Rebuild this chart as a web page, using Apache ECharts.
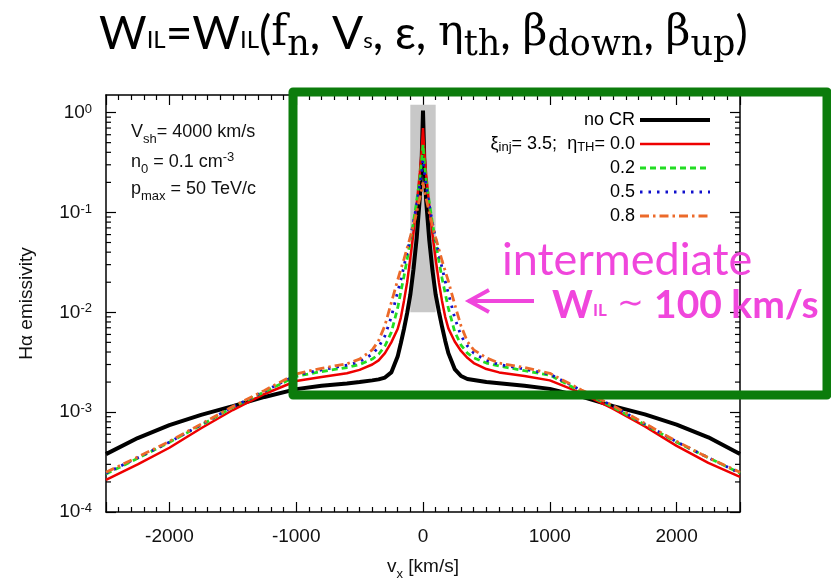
<!DOCTYPE html>
<html>
<head>
<meta charset="utf-8">
<script src="https://cdn.jsdelivr.net/npm/echarts@6/dist/echarts.min.js"></script>
<style>
  html, body { margin: 0; padding: 0; background: #fff; }
  #chart { width: 831px; height: 584px; }
</style>
</head>
<body>
<div id="chart"></div>
<script>
// line-of-sight velocity grid, km/s
var vx = [-2500, -2250, -2000, -1750, -1500, -1250, -1000, -800, -600, -500, -400, -350, -300, -250, -200, -175, -150, -125, -100, -75, -50, -25, -10,
  0, 10, 25, 50, 75, 100, 125, 150, 175, 200, 250, 300, 350, 400, 500, 600, 800, 1000, 1250, 1500, 1750, 2000, 2250, 2500];

// H-alpha emissivity
var noCR = [3.8e-4, 5.5e-4, 7.4e-4, 9.4e-4, 1.15e-3, 1.42e-3, 1.7e-3, 1.84e-3, 1.94e-3, 2.0e-3, 2.08e-3, 2.13e-3, 2.22e-3, 2.5e-3, 3.6e-3, 4.9e-3, 6.8e-3, 9.8e-3, 0.015, 0.027, 0.055, 0.14, 0.35,
  1.05, 0.34, 0.13, 0.052, 0.026, 0.015, 0.0102, 0.0072, 0.0052, 0.0039, 0.0027, 0.0023, 0.00215, 0.0021, 0.002, 0.00195, 0.00184, 0.00171, 0.00143, 0.00115, 0.00095, 0.00075, 0.00056, 0.00038];
var eta00 = [2.1e-4, 3.0e-4, 4.4e-4, 6.9e-4, 1.05e-3, 1.52e-3, 2.05e-3, 2.25e-3, 2.45e-3, 2.65e-3, 3.0e-3, 3.3e-3, 3.9e-3, 5.0e-3, 6.8e-3, 8.8e-3, 0.013, 0.02, 0.035, 0.063, 0.12, 0.25, 0.42,
  0.70, 0.41, 0.24, 0.115, 0.06, 0.034, 0.02, 0.013, 0.009, 0.0069, 0.0051, 0.0041, 0.0035, 0.0031, 0.0027, 0.0025, 0.0023, 0.00208, 0.00155, 0.00108, 0.00072, 0.00046, 0.00031, 0.000225];
var eta02 = [2.4e-4, 3.45e-4, 5.0e-4, 7.4e-4, 1.12e-3, 1.6e-3, 2.28e-3, 2.55e-3, 2.8e-3, 3.0e-3, 3.4e-3, 3.8e-3, 4.6e-3, 6.3e-3, 0.011, 0.016, 0.023, 0.034, 0.052, 0.08, 0.13, 0.22, 0.33,
  0.48, 0.32, 0.21, 0.125, 0.077, 0.05, 0.033, 0.022, 0.0155, 0.011, 0.0064, 0.0047, 0.0039, 0.0035, 0.0031, 0.0029, 0.0026, 0.00235, 0.0016, 0.00112, 0.00075, 0.0005, 0.00035, 0.000245];
var eta05 = [2.45e-4, 3.5e-4, 5.0e-4, 7.5e-4, 1.13e-3, 1.62e-3, 2.35e-3, 2.65e-3, 2.95e-3, 3.2e-3, 3.8e-3, 4.5e-3, 5.8e-3, 9.0e-3, 0.016, 0.021, 0.029, 0.04, 0.056, 0.08, 0.12, 0.19, 0.26,
  0.34, 0.255, 0.185, 0.118, 0.078, 0.054, 0.039, 0.028, 0.0205, 0.0155, 0.0088, 0.0058, 0.0046, 0.0039, 0.0033, 0.003, 0.0027, 0.0024, 0.00165, 0.00115, 0.00076, 0.000505, 0.00035, 0.000245];
var eta08 = [2.5e-4, 3.55e-4, 5.1e-4, 7.6e-4, 1.14e-3, 1.65e-3, 2.42e-3, 2.75e-3, 3.05e-3, 3.4e-3, 4.2e-3, 5.2e-3, 7.4e-3, 0.0125, 0.021, 0.027, 0.034, 0.044, 0.057, 0.075, 0.10, 0.14, 0.17,
  0.20, 0.17, 0.138, 0.099, 0.074, 0.056, 0.043, 0.033, 0.026, 0.0205, 0.012, 0.0073, 0.0051, 0.0042, 0.0035, 0.0031, 0.0028, 0.00245, 0.00167, 0.00116, 0.00077, 0.00051, 0.00035, 0.00025];

var seriesNames = ['no CR', '0.0', '0.2', '0.5', '0.8'];
var seriesColors = ['#000000', '#ee0000', '#22dd22', '#1010cc', '#ec6a2a'];
var seriesWidths = [4, 2.5, 2.8, 2.8, 2.8];
var seriesDashes = ['solid', 'solid', [6, 4], [2.5, 6], [9, 4, 2.5, 4]];
var yMinorTicks = [2e-4, 3e-4, 4e-4, 5e-4, 6e-4, 7e-4, 8e-4, 9e-4,
  2e-3, 3e-3, 4e-3, 5e-3, 6e-3, 7e-3, 8e-3, 9e-3,
  0.02, 0.03, 0.04, 0.05, 0.06, 0.07, 0.08, 0.09,
  0.2, 0.3, 0.4, 0.5, 0.6, 0.7, 0.8, 0.9];
// grey band around the line centre
var shadeX = [-100, 100];
var shadeY = [0.01, 1.2];

var X_MIN = -2500, X_MAX = 2500, Y_MIN = 1e-4, Y_MAX = 1.5;
var SANS = 'Liberation Sans';
var MAGENTA = '#f046dc';

function pairs(ys) {
  return vx.map(function (x, i) { return [x, ys[i]]; });
}

function lineSeries(i, ys) {
  return {
    name: seriesNames[i],
    type: 'line',
    data: pairs(ys),
    symbol: 'none',
    showSymbol: false,
    z: 2 + i,
    lineStyle: { color: seriesColors[i], width: seriesWidths[i], type: seriesDashes[i] },
    itemStyle: { color: seriesColors[i] },
    emphasis: { disabled: true },
    animation: false
  };
}

// rich token helper: shift > 0 moves the glyphs down, < 0 up
function tok(family, size, color, lh, shift, weight) {
  var st = { fontFamily: family, fontSize: size, color: color, lineHeight: lh, fontWeight: weight || 'normal' };
  if (shift > 0) st.padding = [2 * shift, 0, 0, 0];
  if (shift < 0) st.padding = [0, 0, -2 * shift, 0];
  return st;
}
function gtok(family, size, color, lh, shift, weight) {
  var st = tok(family, size, color, lh, shift, weight);
  st.fill = color;
  return st;
}

var xAxisBase = {
  type: 'value',
  min: X_MIN,
  max: X_MAX,
  axisLine: { show: true, onZero: false, lineStyle: { color: '#000', width: 1.5 } },
  axisTick: { show: true, inside: true, length: 10, lineStyle: { color: '#000', width: 1.2 } },
  minorTick: { show: true, splitNumber: 10, length: 5, lineStyle: { color: '#000', width: 1.2 } },
  splitLine: { show: false }
};
var yAxisBase = {
  type: 'log',
  logBase: 10,
  min: Y_MIN,
  max: Y_MAX,
  axisLine: { show: true, onZero: false, lineStyle: { color: '#000', width: 1.5 } },
  axisTick: { show: true, inside: true, length: 10, lineStyle: { color: '#000', width: 1.2 } },
  splitLine: { show: false }
};

var chart = echarts.init(document.getElementById('chart'));
var s1 = lineSeries(0, noCR);
s1.markArea = {
  silent: true,
  itemStyle: { color: '#c8c8c8' },
  data: [[{ coord: [shadeX[0], shadeY[0]] }, { coord: [shadeX[1], shadeY[1]] }]]
};

chart.setOption({
  animation: false,
  title: {
    text: '{m|W}{il|IL}{m|=W}{il|IL}{m|(}{f|f}{fs|n}{m|, V}{s|s}{m|, ε, }{f|η}{fs|th}{m|, }{f|β}{fs|down}{m|, }{f|β}{fs|up}{m|)}',
    left: 99,
    top: 4,
    padding: 0,
    textStyle: {
      fontWeight: 'normal',
      rich: {
        m: tok('Lato', 46, '#000', 60, 0),
        il: tok('Lato', 24, '#000', 60, 6),
        s: tok('Lato', 22, '#000', 60, 7),
        f: tok('DejaVu Serif', 43, '#000', 60, 0),
        fs: tok('DejaVu Serif', 35, '#000', 60, 12)
      }
    }
  },
  grid: { left: 106, right: 91, top: 95, bottom: 72, outerBoundsMode: 'none' },
  legend: {
    data: seriesNames.map(function (n, i) {
      return { name: n, lineStyle: { width: seriesWidths[i], type: seriesDashes[i], color: seriesColors[i] } };
    }),
    orient: 'vertical',
    align: 'right',
    right: 119,
    top: 110,
    padding: 0,
    itemWidth: 70,
    itemHeight: 20,
    itemGap: 4,
    selectedMode: false,
    itemStyle: { color: 'rgba(0,0,0,0)', borderColor: 'rgba(0,0,0,0)', borderWidth: 0 },
    formatter: function (name) {
      return name === '0.0' ? '{t|ξ}{s|inj}{t|= 3.5;  η}{s|TH}{t|= 0.0}' : name;
    },
    textStyle: {
      fontFamily: SANS, fontSize: 18, color: '#000', lineHeight: 20,
      rich: {
        t: { fontFamily: SANS, fontSize: 18, color: '#000', lineHeight: 20 },
        s: { fontFamily: SANS, fontSize: 13, color: '#000', lineHeight: 8, verticalAlign: 'bottom' }
      }
    }
  },
  xAxis: [
    Object.assign({}, xAxisBase, {
      position: 'bottom',
      axisLabel: {
        margin: 15, fontFamily: SANS, fontSize: 19, color: '#111', showMinLabel: false, showMaxLabel: false,
        formatter: function (v) { return String(v); }
      },
      name: '{t|v}{s|x}{t| [km/s]}',
      nameLocation: 'middle',
      nameGap: 45,
      nameTextStyle: {
        rich: {
          t: tok(SANS, 19, '#111', 20, 0),
          s: tok(SANS, 13, '#111', 20, 7)
        }
      }
    }),
    Object.assign({}, xAxisBase, { position: 'top', axisLabel: { show: false } })
  ],
  yAxis: [
    Object.assign({}, yAxisBase, {
      position: 'left',
      axisLabel: {
        margin: 14, showMaxLabel: false,
        formatter: function (v) { return '{b|10}{e|' + Math.round(Math.log10(v)) + '}'; },
        rich: {
          b: { fontFamily: SANS, fontSize: 19, color: '#111', lineHeight: 20 },
          e: { fontFamily: SANS, fontSize: 13, color: '#111', lineHeight: 6, verticalAlign: 'top' }
        }
      },
      name: 'Hα emissivity',
      nameLocation: 'middle',
      nameGap: 70,
      nameTextStyle: { fontFamily: SANS, fontSize: 19, color: '#111' }
    }),
    Object.assign({}, yAxisBase, { position: 'right', axisLabel: { show: false } })
  ],
  series: [
    {
      type: 'custom',
      name: 'minor ticks',
      silent: true,
      clip: false,
      z: 3,
      data: yMinorTicks.map(function (v) { return [X_MIN, v]; }),
      encode: { x: 0, y: 1 },
      renderItem: function (params, api) {
        var cs = params.coordSys;
        var y = api.coord([X_MIN, api.value(1)])[1];
        var st = { stroke: '#000', lineWidth: 1.2 };
        return {
          type: 'group',
          children: [
            { type: 'line', shape: { x1: cs.x, y1: y, x2: cs.x + 5, y2: y }, style: st },
            { type: 'line', shape: { x1: cs.x + cs.width - 5, y1: y, x2: cs.x + cs.width, y2: y }, style: st }
          ]
        };
      }
    },
    s1,
    lineSeries(1, eta00),
    lineSeries(2, eta02),
    lineSeries(3, eta05),
    lineSeries(4, eta08)
  ],
  graphic: [
    {
      type: 'text', x: 131, y: 122, z: 50,
      style: {
        text: '{t|V}{s|sh}{t|= 4000 km/s}',
        rich: { t: gtok(SANS, 18, '#111', 20, 0), s: gtok(SANS, 13, '#111', 20, 7) }
      }
    },
    {
      type: 'text', x: 131, y: 152, z: 50,
      style: {
        text: '{t|n}{s|0}{t| = 0.1 cm}{p|-3}',
        rich: { t: gtok(SANS, 18, '#111', 20, 0), s: gtok(SANS, 13, '#111', 20, 7), p: gtok(SANS, 13, '#111', 20, -5) }
      }
    },
    {
      type: 'text', x: 131, y: 179, z: 50,
      style: {
        text: '{t|p}{s|max}{t| = 50 TeV/c}',
        rich: { t: gtok(SANS, 18, '#111', 20, 0), s: gtok(SANS, 13, '#111', 20, 7) }
      }
    },
    {
      type: 'text', x: 502, y: 235, z: 60,
      style: { text: 'intermediate', fontFamily: 'Lato', fontSize: 45, lineHeight: 50, fill: MAGENTA }
    },
    {
      type: 'text', x: 552, y: 282, z: 60,
      style: {
        text: '{b|W}{bs|IL}{n| ∼ }{b|100 km/s}',
        rich: {
          b: gtok('Lato', 39, MAGENTA, 46, 0, 'bold'),
          bs: gtok('Lato', 17, MAGENTA, 46, 6, 'bold'),
          n: gtok('DejaVu Sans', 32, MAGENTA, 46, 0)
        }
      }
    },
    {
      type: 'polyline', z: 60,
      shape: { points: [[468, 301], [534, 301]] },
      style: { stroke: MAGENTA, lineWidth: 4, fill: null }
    },
    {
      type: 'polyline', z: 60,
      shape: { points: [[489, 290], [469, 301], [489, 312]] },
      style: { stroke: MAGENTA, lineWidth: 4, fill: null, lineJoin: 'miter' }
    },
    {
      type: 'rect', z: 70,
      shape: { x: 293, y: 92, width: 534, height: 303 },
      style: { fill: null, stroke: '#0c7c0c', lineWidth: 9, lineJoin: 'round' }
    }
  ]
});
</script>
</body>
</html>
